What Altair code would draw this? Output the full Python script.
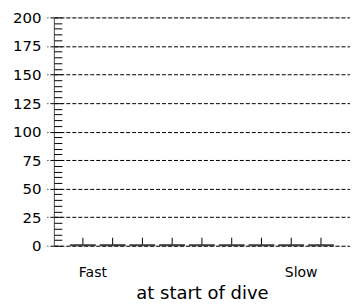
import altair as alt
import pandas as pd

categories = ["1", "2", "3", "4", "5", "6", "7", "8", "9"]
means = [1, 1, 1, 1, 1, 1, 1, 1, 1]
uppers = [7, 7, 7, 7, 7, 7, 7, 7, 7]
y_ticks = [0, 25, 50, 75, 100, 125, 150, 175, 200]
minor_ticks = list(range(0, 201, 5))

df = pd.DataFrame({"cat": categories, "mean": means, "upper": uppers})

FONT = "DejaVu Sans"

x_enc = alt.X(
    "cat:N",
    sort=categories,
    scale=alt.Scale(paddingInner=0.15, paddingOuter=0.55),
    axis=alt.Axis(
        title="at start of dive",
        labelExpr="datum.value == '1' ? 'Fast' : datum.value == '8' ? 'Slow' : ''",
        labelOffset=10,
        labelAngle=0,
        labelPadding=20,
        labelFontSize=14,
        labelFont=FONT,
        labelColor="black",
        titleFont=FONT,
        titleFontSize=18,
        titleFontWeight="normal",
        titleColor="black",
        titlePadding=5,
        ticks=False,
        domain=False,
        grid=False,
    ),
)

y_scale = alt.Scale(domain=[0, 200], nice=False)

bars = alt.Chart(df).mark_bar(color="#222222", stroke="#222222", strokeWidth=0.5).encode(
    x=x_enc,
    y=alt.Y(
        "mean:Q",
        scale=y_scale,
        axis=alt.Axis(
            title=None,
            values=y_ticks,
            labelFont=FONT,
            labelFontSize=15,
            labelColor="black",
            labelPadding=6,
            tickSize=7,
            tickColor="black",
            tickDash=[4, 2],
            domainColor="#555555",
            grid=True,
            gridColor="black",
            gridDash=[4, 2],
            gridOpacity=1,
            gridWidth=1,
        ),
    ),
)

errs = alt.Chart(df).mark_rule(color="black", strokeWidth=1).encode(
    x=alt.X("cat:N", sort=categories),
    y=alt.Y("mean:Q", scale=y_scale, axis=None),
    y2="upper:Q",
)

minor_df = pd.DataFrame({"v": minor_ticks})
minor = alt.Chart(minor_df).mark_point(opacity=0).encode(
    y=alt.Y(
        "v:Q",
        scale=y_scale,
        axis=alt.Axis(
            orient="right",
            offset=-297,
            values=minor_ticks,
            labels=False,
            domain=False,
            grid=False,
            tickSize=8,
            tickColor="black",
            tickWidth=1,
            title=None,
        ),
    ),
)

chart = (
    alt.layer(bars, errs, minor)
    .resolve_axis(y="independent")
    .resolve_scale(y="shared")
    .properties(
        width=297,
        height=229,
        autosize=alt.AutoSizeParams(type="none"),
        padding={"left": 46, "top": 9, "right": 0, "bottom": 56},
    )
    .configure_view(stroke="black", strokeDash=[4, 2], strokeWidth=1)
    .configure(background="white")
)

chart.save("out.html", embed_options={"renderer": "svg", "actions": False})
